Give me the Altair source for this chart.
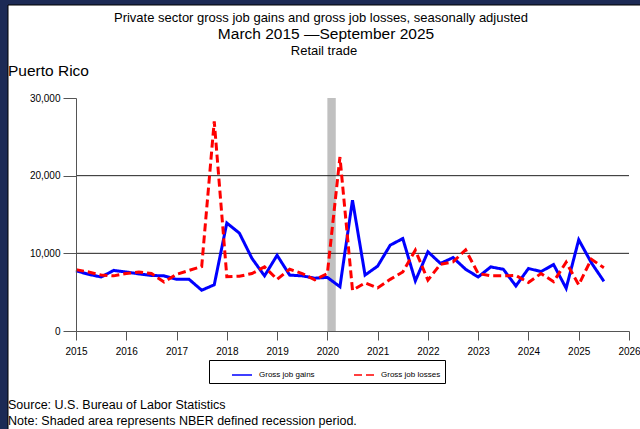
import altair as alt
import pandas as pd

# ---------------- data ----------------
years = list(range(2015, 2026))
quarter_labels = [f"{y}Q{q}" for y in years for q in (1, 2, 3, 4)][:43]  # 2015Q1 .. 2025Q3

gains = [7750, 7300, 6950, 7800, 7600, 7350, 7150, 7100, 6650, 6650, 5250, 5950,
         13900, 12600, 9350, 7100, 9750, 7200, 7100, 6800, 6900, 5700, 16850, 7200,
         8350, 11050, 11900, 6450, 10200, 8700, 9450, 7950, 6950, 8250, 7950, 5800,
         8050, 7650, 8550, 5500, 11750, 8800, 6400]
losses = [7900, 7600, 7200, 7100, 7400, 7600, 7400, 6300, 7300, 7800, 8300, 27000,
          7000, 7050, 7400, 8250, 6650, 7950, 7400, 6600, 7400, 22400, 5250, 6200,
          5550, 6650, 7600, 10400, 6550, 8600, 8900, 10450, 7400, 7100, 7100, 7150,
          6250, 7400, 6350, 8850, 5950, 9250, 8150]

series_names = ["Gross job gains", "Gross job losses"]
series_colors = ["#0000ff", "#ff0000"]
recession_start = [2020.0]
recession_end = [2020.167]
y_grid_values = [10000, 20000]

x_ticks = [2015 + 0.25 * k for k in range(45)]
y_ticks = list(range(0, 30001, 5000))

def qpos(label):
    y, q = label.split("Q")
    return int(y) + (int(q) - 1) / 4.0

rows = []
for lab, g, l in zip(quarter_labels, gains, losses):
    rows.append({"period": lab, "x": qpos(lab), "series": series_names[0], "value": g})
    rows.append({"period": lab, "x": qpos(lab), "series": series_names[1], "value": l})
df = pd.DataFrame(rows)

# ---------------- layout ----------------
W, H = 553, 233
PL, PT = 76, 98
FONT = "Liberation Sans"

one = pd.DataFrame({"a": [0]})

xscale = alt.Scale(domain=[2015, 2026], nice=False, zero=False)
yscale = alt.Scale(domain=[0, 30000], nice=False)

# white page area on navy background
page = alt.Chart(one).mark_rect(fill="white", stroke="#000000", strokeWidth=1).encode(
    x=alt.value(8 - PL), x2=alt.value(660 - PL),
    y=alt.value(5 - PT), y2=alt.value(440 - PT),
)

rec = alt.Chart(pd.DataFrame({"s": recession_start, "e": recession_end})).mark_rect(
    color="#c0c0c0").encode(
    x=alt.X("s:Q", scale=xscale), x2="e:Q",
    y=alt.value(0), y2=alt.value(H),
)

grid = alt.Chart(pd.DataFrame({"g": y_grid_values})).mark_rule(
    color="#222222", strokeWidth=1).encode(y=alt.Y("g:Q", scale=yscale))

legend = alt.Legend(
    title=None, orient="none", legendX=133, legendY=262, direction="horizontal",
    strokeColor="#000000", fillColor="white", padding=4, symbolType="stroke",
    symbolSize=400, symbolStrokeWidth=1.5, symbolOffset=18, labelOffset=6,
    columnPadding=20, labelFont=FONT, labelFontSize=8, labelColor="#000000",
)

lines = alt.Chart(df).mark_line(strokeWidth=3).encode(
    x=alt.X("x:Q", scale=xscale, title=None,
            axis=alt.Axis(values=x_ticks, grid=False, zindex=1,
                          labelExpr="datum.value % 1 === 0 ? '' + datum.value : ''",
                          tickSize={"condition": {"test": "datum.value % 1 === 0", "value": 9}, "value": 5},
                          labelPadding=6, labelFlush=False, labelOverlap=False,
                          domainColor="#555555", tickColor="#555555")),
    y=alt.Y("value:Q", scale=yscale, title=None,
            axis=alt.Axis(values=y_ticks, grid=False, zindex=1,
                          labelExpr="datum.value % 10000 === 0 ? format(datum.value, ',') : ''",
                          tickSize={"condition": {"test": "datum.value % 10000 === 0", "value": 13}, "value": 8},
                          labelPadding=3, labelOverlap=False,
                          domainColor="#555555", tickColor="#555555")),
    color=alt.Color("series:N", scale=alt.Scale(domain=series_names, range=series_colors), legend=legend),
    strokeDash=alt.StrokeDash("series:N", scale=alt.Scale(domain=series_names, range=[[1, 0], [8, 4]]), legend=legend),
    detail="series:N",
)

def txt(s, x, y, size, align="center"):
    return alt.Chart(pd.DataFrame({"t": [s]})).mark_text(
        font=FONT, fontSize=size, align=align, baseline="middle", color="#000000").encode(
        text="t:N", x=alt.value(x - PL), y=alt.value(y - PT))

texts = [
    txt("Private sector gross job gains and gross job losses, seasonally adjusted", 321, 18, 13),
    txt("March 2015 \u2014September 2025", 326, 34, 15.5),
    txt("Retail trade", 324, 51, 13),
    txt("Puerto Rico", 8, 71, 15.5, "left"),
    txt("Source: U.S. Bureau of Labor Statistics", 8, 405, 12.5, "left"),
    txt("Note: Shaded area represents NBER defined recession period.", 8, 421, 12.5, "left"),
]

chart = alt.layer(page, rec, grid, lines, *texts).properties(
    width=W, height=H,
    padding={"left": PL, "top": PT, "right": 640 - PL - W, "bottom": 429 - PT - H},
    autosize=alt.AutoSizeParams(type="none"),
    background="#1c2a55",
).configure_view(stroke="#777777", strokeWidth=1)

chart.save("out.html", embed_options={"renderer": "svg", "actions": False})
